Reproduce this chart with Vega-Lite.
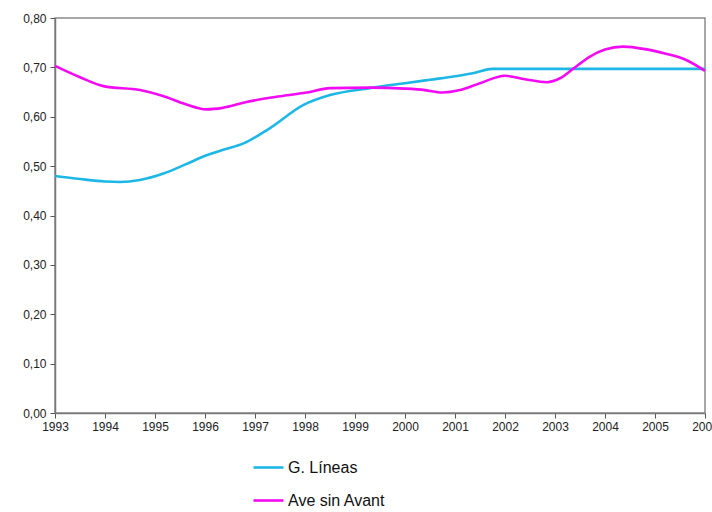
{
  "$schema": "https://vega.github.io/schema/vega-lite/v6.json",
  "width": 650,
  "height": 395,
  "autosize": {"type": "none"},
  "padding": {"left": 55, "top": 18, "right": 7, "bottom": 99},
  "background": "white",
  "config": {
    "view": {"stroke": "#8a8a8a", "strokeWidth": 1.5},
    "axis": {
      "domainColor": "#7a7a7a",
      "domainWidth": 1.5,
      "tickColor": "#555555",
      "grid": false,
      "labelFont": "Liberation Sans Narrow, Liberation Sans, Arial",
      "labelFontSize": 12,
      "labelColor": "#222222",
      "title": null
    }
  },
  "data": {
    "values": [
      {"year": 1993.0, "value": 0.480, "serie": "G. Líneas"},
      {"year": 1993.5, "value": 0.474, "serie": "G. Líneas"},
      {"year": 1994.0, "value": 0.469, "serie": "G. Líneas"},
      {"year": 1994.3, "value": 0.468, "serie": "G. Líneas"},
      {"year": 1994.7, "value": 0.472, "serie": "G. Líneas"},
      {"year": 1995.17, "value": 0.485, "serie": "G. Líneas"},
      {"year": 1995.6, "value": 0.503, "serie": "G. Líneas"},
      {"year": 1996.03, "value": 0.522, "serie": "G. Líneas"},
      {"year": 1996.4, "value": 0.534, "serie": "G. Líneas"},
      {"year": 1996.77, "value": 0.546, "serie": "G. Líneas"},
      {"year": 1997.3, "value": 0.577, "serie": "G. Líneas"},
      {"year": 1997.97, "value": 0.624, "serie": "G. Líneas"},
      {"year": 1998.5, "value": 0.644, "serie": "G. Líneas"},
      {"year": 1999.3, "value": 0.658, "serie": "G. Líneas"},
      {"year": 2000.0, "value": 0.668, "serie": "G. Líneas"},
      {"year": 2000.5, "value": 0.675, "serie": "G. Líneas"},
      {"year": 2001.0, "value": 0.682, "serie": "G. Líneas"},
      {"year": 2001.4, "value": 0.689, "serie": "G. Líneas"},
      {"year": 2001.74, "value": 0.697, "serie": "G. Líneas"},
      {"year": 2002.5, "value": 0.697, "serie": "G. Líneas"},
      {"year": 2003.5, "value": 0.697, "serie": "G. Líneas"},
      {"year": 2004.5, "value": 0.697, "serie": "G. Líneas"},
      {"year": 2005.5, "value": 0.697, "serie": "G. Líneas"},
      {"year": 2006.0, "value": 0.697, "serie": "G. Líneas"},

      {"year": 1993.0, "value": 0.703, "serie": "Ave sin Avant"},
      {"year": 1993.5, "value": 0.680, "serie": "Ave sin Avant"},
      {"year": 1993.97, "value": 0.662, "serie": "Ave sin Avant"},
      {"year": 1994.7, "value": 0.654, "serie": "Ave sin Avant"},
      {"year": 1995.16, "value": 0.642, "serie": "Ave sin Avant"},
      {"year": 1995.6, "value": 0.626, "serie": "Ave sin Avant"},
      {"year": 1996.03, "value": 0.615, "serie": "Ave sin Avant"},
      {"year": 1996.35, "value": 0.618, "serie": "Ave sin Avant"},
      {"year": 1996.83, "value": 0.630, "serie": "Ave sin Avant"},
      {"year": 1997.4, "value": 0.640, "serie": "Ave sin Avant"},
      {"year": 1998.03, "value": 0.649, "serie": "Ave sin Avant"},
      {"year": 1998.5, "value": 0.658, "serie": "Ave sin Avant"},
      {"year": 1999.3, "value": 0.659, "serie": "Ave sin Avant"},
      {"year": 2000.0, "value": 0.657, "serie": "Ave sin Avant"},
      {"year": 2000.4, "value": 0.654, "serie": "Ave sin Avant"},
      {"year": 2000.74, "value": 0.649, "serie": "Ave sin Avant"},
      {"year": 2001.1, "value": 0.654, "serie": "Ave sin Avant"},
      {"year": 2001.5, "value": 0.668, "serie": "Ave sin Avant"},
      {"year": 2002.0, "value": 0.683, "serie": "Ave sin Avant"},
      {"year": 2002.4, "value": 0.676, "serie": "Ave sin Avant"},
      {"year": 2002.84, "value": 0.670, "serie": "Ave sin Avant"},
      {"year": 2003.1, "value": 0.678, "serie": "Ave sin Avant"},
      {"year": 2003.36, "value": 0.697, "serie": "Ave sin Avant"},
      {"year": 2003.7, "value": 0.722, "serie": "Ave sin Avant"},
      {"year": 2004.0, "value": 0.736, "serie": "Ave sin Avant"},
      {"year": 2004.36, "value": 0.742, "serie": "Ave sin Avant"},
      {"year": 2004.8, "value": 0.737, "serie": "Ave sin Avant"},
      {"year": 2005.2, "value": 0.728, "serie": "Ave sin Avant"},
      {"year": 2005.6, "value": 0.716, "serie": "Ave sin Avant"},
      {"year": 2006.0, "value": 0.693, "serie": "Ave sin Avant"}
    ]
  },
  "mark": {"type": "line", "strokeWidth": 2.6, "interpolate": "monotone", "clip": false},
  "encoding": {
    "x": {
      "field": "year",
      "type": "quantitative",
      "scale": {"domain": [1993, 2006], "nice": false, "zero": false},
      "axis": {
        "values": [1993, 1994, 1995, 1996, 1997, 1998, 1999, 2000, 2001, 2002, 2003, 2004, 2005, 2006],
        "format": "d",
        "tickSize": 5,
        "labelPadding": 3,
        "labelOverlap": false,
        "labelFlush": false
      }
    },
    "y": {
      "field": "value",
      "type": "quantitative",
      "scale": {"domain": [0, 0.8], "nice": false},
      "axis": {
        "values": [0, 0.1, 0.2, 0.3, 0.4, 0.5, 0.6, 0.7, 0.8],
        "labelExpr": "replace(format(datum.value, '.2f'), '.', ',')",
        "tickSize": 5,
        "labelPadding": 4
      }
    },
    "color": {
      "field": "serie",
      "type": "nominal",
      "sort": ["G. Líneas", "Ave sin Avant"],
      "scale": {"domain": ["G. Líneas", "Ave sin Avant"], "range": ["#1db7e6", "#f20af2"]},
      "legend": {
        "title": null,
        "orient": "none",
        "legendX": 197,
        "legendY": 433,
        "symbolType": "stroke",
        "symbolSize": 900,
        "symbolStrokeWidth": 2.6,
        "labelFont": "Liberation Sans, Arial",
        "labelFontSize": 16,
        "labelColor": "#111111",
        "rowPadding": 8,
        "labelOffset": 3
      }
    }
  }
}
